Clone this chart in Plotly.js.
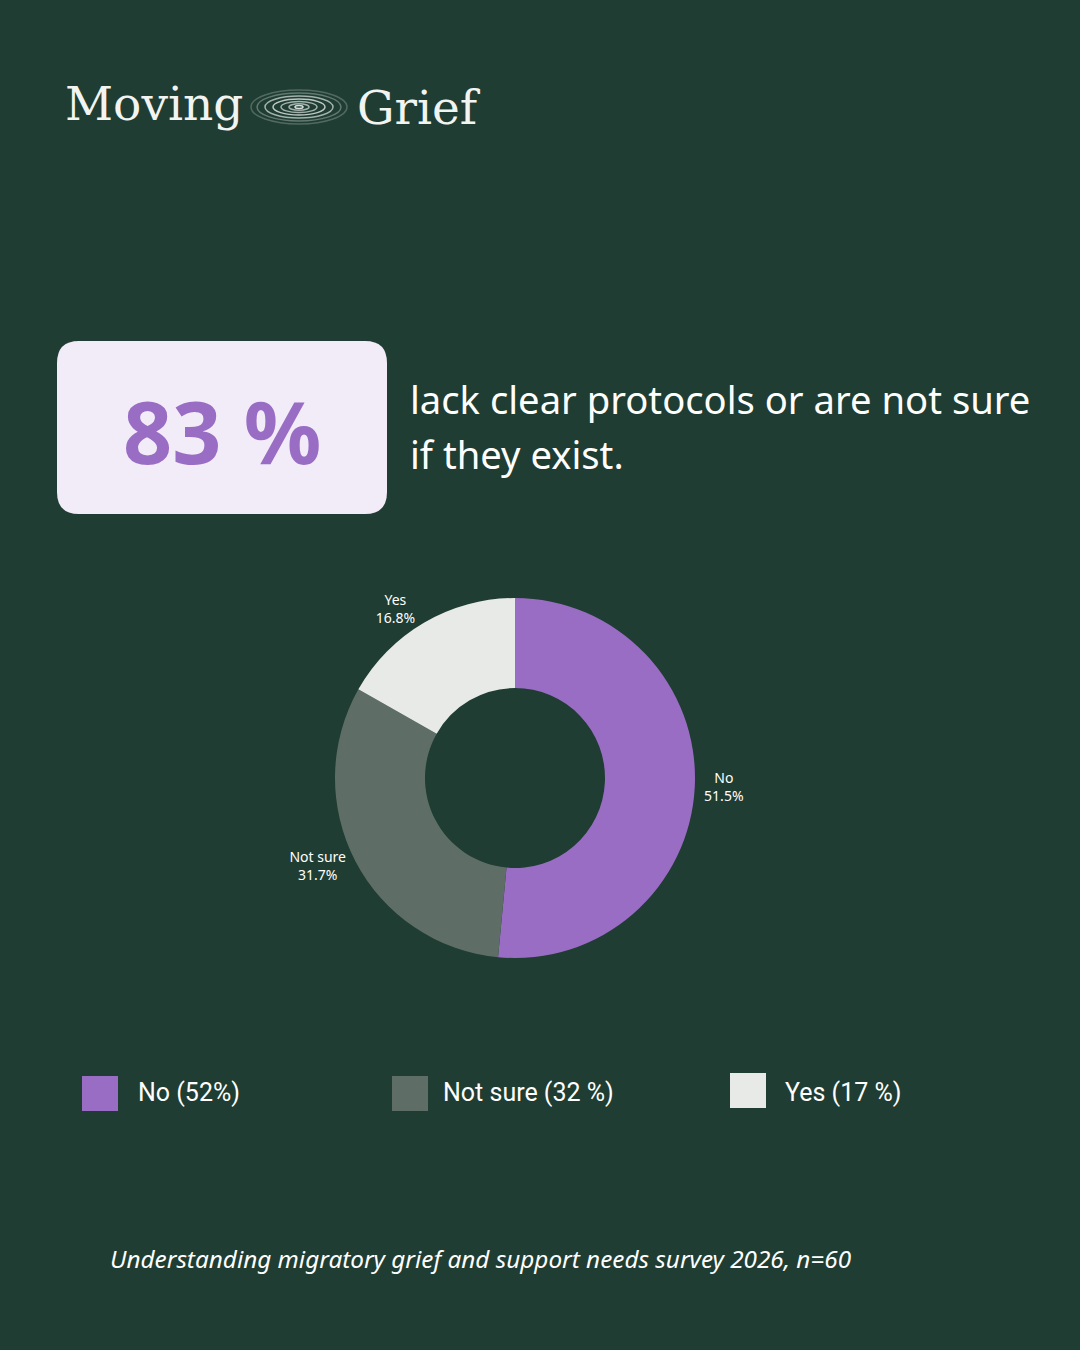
<!DOCTYPE html>
<html>
<head>
<meta charset="utf-8">
<script src="https://cdn.plot.ly/plotly-3.0.1.min.js"></script>
<style>
html,body{margin:0;padding:0;background:#1f3d32;}
#chart{width:1080px;height:1350px;}
</style>
</head>
<body>
<div id="chart"></div>
<script>
// ---- data ----
const categories = ["No", "Not sure", "Yes"];
const values = [51.5, 31.7, 16.8];
const legendLabels = ["No (52%)", "Not sure (32 %)", "Yes (17 %)"];
const sliceColors = ["#9a6dc5", "#5e6e66", "#e8eae8"];
const headlineNumber = "83 %";
const headlineLines = ["lack clear protocols or are not sure", "if they exist."];
const sourceText = "Understanding migratory grief and support needs survey 2026, n=60";

const W = 1080, H = 1350;
const px = x => x / W;
const py = y => 1 - y / H;

const bg = "#1f3d32";

// pie geometry
const cx = 515, cy = 778, R = 180;

const trace = {
  type: "pie",
  labels: categories,
  values: values,
  sort: false,
  direction: "clockwise",
  rotation: 0,
  hole: 0.5,
  marker: {colors: sliceColors, line: {width: 0}},
  texttemplate: "%{label}<br>%{percent:.1%}",
  textposition: "outside",
  outsidetextfont: {color: "#ffffff", size: 14, family: "Noto Sans, sans-serif"},
  domain: {x: [px(cx - R), px(cx + R)], y: [py(cy + R), py(cy - R)]},
  showlegend: false,
  hoverinfo: "none"
};

const shapes = [];
const annotations = [];

function roundRect(x0, y0, x1, y1, r) {
  return `M${x0 + r},${y0} L${x1 - r},${y0} Q${x1},${y0} ${x1},${y0 + r} L${x1},${y1 - r} Q${x1},${y1} ${x1 - r},${y1} L${x0 + r},${y1} Q${x0},${y1} ${x0},${y1 - r} L${x0},${y0 + r} Q${x0},${y0} ${x0 + r},${y0} Z`;
}

const deco = {xref: "x", yref: "y"};
shapes.push(Object.assign({type: "path", path: roundRect(57, 341, 387, 514, 22),
  fillcolor: "#f2ecf8", line: {width: 0}, layer: "below"}, deco));

// logo ripple ellipses
const ripple = [
  [48, 17, "rgba(200,210,205,0.3)"],
  [42, 14, "rgba(200,210,205,0.4)"],
  [34, 11, "rgba(220,228,224,0.7)"],
  [26, 8, "rgba(230,235,232,0.8)"],
  [18, 5.5, "rgba(220,228,224,0.7)"],
  [10, 3.2, "rgba(220,228,224,0.7)"],
  [4, 1.5, "rgba(235,240,238,0.9)"]
];
ripple.forEach(r => {
  shapes.push(Object.assign({type: "circle", x0: 299 - r[0], x1: 299 + r[0], y0: 107 - r[1], y1: 107 + r[1],
    line: {color: r[2], width: 1.5}, fillcolor: "rgba(0,0,0,0)"}, deco));
});

// legend
const legendX = [82, 392, 730];
const legendTextX = [136, 441, 783];
const legendY = 1093;
legendLabels.forEach((lab, i) => {
  shapes.push(Object.assign({type: "rect", x0: legendX[i], x1: legendX[i] + 36,
    y0: legendY - (i === 2 ? 20 : 17), y1: legendY + (i === 2 ? 15 : 18),
    fillcolor: sliceColors[i], line: {width: 0}}, deco));
  annotations.push(Object.assign({x: legendTextX[i], y: legendY - 1, text: lab, showarrow: false,
    xanchor: "left", yanchor: "middle", font: {family: "Roboto, sans-serif", size: 25, color: "#ffffff"}}, deco));
});

// logo text
annotations.push(Object.assign({x: 63, y: 103, text: "Moving", showarrow: false, xanchor: "left", yanchor: "middle",
  font: {family: "DejaVu Serif, serif", size: 47, color: "#f2f4f2"}}, deco));
annotations.push(Object.assign({x: 355, y: 107, text: "Grief", showarrow: false, xanchor: "left", yanchor: "middle",
  font: {family: "DejaVu Serif, serif", size: 47, color: "#f2f4f2"}}, deco));

// headline number
annotations.push(Object.assign({x: 222, y: 430, text: "<b>" + headlineNumber + "</b>", showarrow: false,
  xanchor: "center", yanchor: "middle",
  font: {family: "Noto Sans, sans-serif", size: 86, color: "#9a6dc5"}}, deco));

// headline text lines
const lineY = [399, 454];
headlineLines.forEach((t, i) => {
  annotations.push(Object.assign({x: 408, y: lineY[i], text: t, showarrow: false,
    xanchor: "left", yanchor: "middle", align: "left",
    font: {family: "Noto Sans, sans-serif", size: 38.2, color: "#ffffff"}}, deco));
});

// source
annotations.push(Object.assign({x: 108, y: 1258, text: "<i>" + sourceText + "</i>", showarrow: false,
  xanchor: "left", yanchor: "middle",
  font: {family: "Noto Sans, sans-serif", size: 24.3, color: "#ffffff"}}, deco));

const layout = {
  width: W, height: H,
  margin: {l: 0, r: 0, t: 0, b: 0},
  paper_bgcolor: bg, plot_bgcolor: "rgba(0,0,0,0)",
  showlegend: false,
  xaxis: {range: [0, W], visible: false, fixedrange: true},
  yaxis: {range: [H, 0], visible: false, fixedrange: true},
  shapes: shapes,
  annotations: annotations
};

Plotly.newPlot("chart", [trace], layout, {displayModeBar: false, staticPlot: true});
</script>
</body>
</html>
